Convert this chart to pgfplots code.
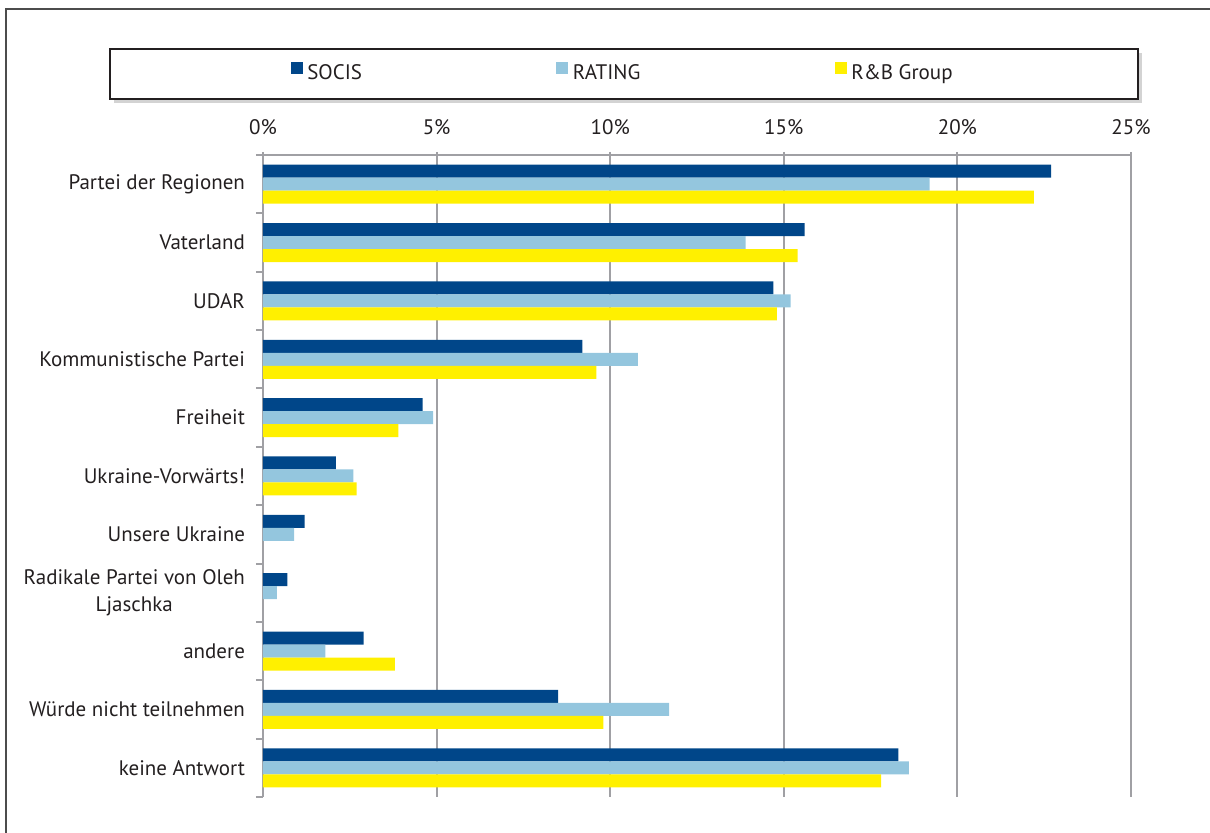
\documentclass[border=0pt]{standalone}
\usepackage{pgfplots}
\pgfplotsset{compat=1.18}
\usepackage{fontspec}
\setmainfont{PT Sans}
\usetikzlibrary{shadows}
\definecolor{socis}{RGB}{0,70,137}
\definecolor{rating}{RGB}{148,198,222}
\definecolor{rbg}{RGB}{255,240,0}
\definecolor{gridgray}{RGB}{160,160,164}
\definecolor{txt}{RGB}{35,31,32}
\pgfplotsset{
  squareleg/.style={legend image code/.code={\fill[##1,draw=none] (0pt,0pt) rectangle (6pt,6pt);}},
}
\begin{document}
\begin{tikzpicture}
\useasboundingbox (-131.5pt,-18pt) rectangle (473.5pt,398.5pt);
\draw[gray!60!black, line width=0.6pt] (-128.5pt,-20pt) -- (-128.5pt,394pt) -- (476pt,394pt);
% legend frame with shadow
\draw[txt, line width=1pt, fill=white, drop shadow={shadow xshift=2pt, shadow yshift=-2pt, opacity=0.35}]
  (-76.5pt,349pt) rectangle (437.5pt,374pt);
\begin{axis}[
  at={(0pt,0pt)}, anchor=south west,
  scale only axis, width=434pt, height=321pt,
  xbar, bar width=6.5pt,
  xmin=0, xmax=25, ymin=-0.5, ymax=10.5, y dir=reverse,
  axis x line*=top, axis y line*=left,
  axis line style={gridgray, line width=1pt, -},
  tick align=outside,
  xtick={0,5,...,25}, xticklabels={0\%,5\%,10\%,15\%,20\%,25\%},
  xmajorgrids, grid style={gridgray, line width=1pt},
  major x tick style={gridgray, line width=1pt},
  major tick length=1.5pt,
  ytick={0,...,10},
  yticklabels={Partei der Regionen,Vaterland,UDAR,Kommunistische Partei,Freiheit,Ukraine-Vorwärts!,Unsere Ukraine,{Radikale Partei von Oleh\\Ljaschka},andere,Würde nicht teilnehmen,keine Antwort},
  major y tick style={draw=none},
  minor ytick={-0.5,0.5,...,10.5},
  minor tick length=3.5pt,
  minor y tick style={gridgray, line width=1pt},
  every tick label/.append style={font=\fontsize{10.5}{13.5}\selectfont, text=txt},
  yticklabel style={align=center, xshift=-4pt},
  xticklabel style={yshift=5pt},
  every axis plot/.append style={draw=none},
  squareleg,
  legend columns=3,
  legend style={at={(0.4159,1.1262)}, anchor=center, draw=none, fill=none,
    nodes={inner xsep=2.2pt},
    /tikz/every even column/.append style={column sep=95pt},
    font=\fontsize{10.5}{13.5}\selectfont, text=txt},
]
\addplot[fill=socis, bar shift=6.5pt] coordinates {
(22.7,0) (15.6,1) (14.7,2) (9.2,3) (4.6,4) (2.1,5) (1.2,6) (0.7,7) (2.9,8) (8.5,9) (18.3,10)};
\addplot[fill=rating, bar shift=0pt] coordinates {
(19.2,0) (13.9,1) (15.2,2) (10.8,3) (4.9,4) (2.6,5) (0.9,6) (0.4,7) (1.8,8) (11.7,9) (18.6,10)};
\addplot[fill=rbg, bar shift=-6.5pt] coordinates {
(22.2,0) (15.4,1) (14.8,2) (9.6,3) (3.9,4) (2.7,5) (3.8,8) (9.8,9) (17.8,10)};
\legend{SOCIS,RATING,R\&B Group}
\end{axis}
\end{tikzpicture}
\end{document}
